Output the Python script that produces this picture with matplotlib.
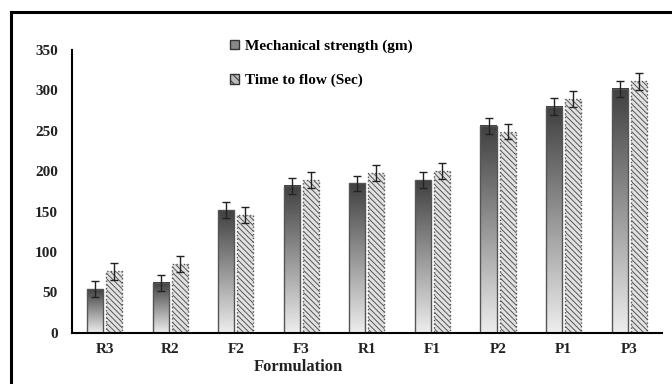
import matplotlib.pyplot as plt
import matplotlib.patches as mpatches
import numpy as np

plt.rcParams['font.family'] = ['Liberation Serif', 'DejaVu Serif']
plt.rcParams['font.weight'] = 'bold'
plt.rcParams['hatch.linewidth'] = 0.7
plt.rcParams['hatch.color'] = '#444444'

# Данные
formulations = ['R3', 'R2', 'F2', 'F3', 'R1', 'F1', 'P2', 'P1', 'P3']
mech_strength = [54, 62, 152, 182, 185, 189, 256, 280, 302]
mech_err = [10, 10, 10, 10, 9, 10, 10, 10, 10]
time_to_flow = [76, 85, 146, 189, 198, 200, 249, 289, 311]
flow_err = [10, 10, 10, 10, 10, 10, 9, 10, 10]

fig = plt.figure(figsize=(6.72, 3.84), dpi=100)
ax = fig.add_axes([0.107, 0.133, 0.878, 0.737])

x = np.arange(len(formulations))
w = 0.245
off = 0.145

# градиентная заливка: тёмный верх, светлый низ
grad = np.linspace(0.25, 0.93, 256).reshape(-1, 1)
for xi, h in zip(x - off, mech_strength):
    ax.imshow(grad, cmap='gray', vmin=0, vmax=1, aspect='auto',
              extent=[xi - w / 2, xi + w / 2, 0, h], zorder=1,
              interpolation='bicubic')
ax.bar(x - off, mech_strength, w, facecolor='none', edgecolor='#555555',
       linewidth=1.0, zorder=2)
ax.errorbar(x - off, mech_strength, yerr=mech_err, fmt='none', ecolor='#222222',
            elinewidth=1.0, capsize=3, capthick=1.0, zorder=3)

ax.bar(x + off, time_to_flow, w, facecolor='#e2e2e2', edgecolor='#555555',
       hatch='\\\\\\\\\\\\', linewidth=1.0, linestyle=':', zorder=2)
ax.errorbar(x + off, time_to_flow, yerr=flow_err, fmt='none', ecolor='#222222',
            elinewidth=1.0, capsize=3, capthick=1.0, zorder=3)

ax.set_xlim(-0.5, len(formulations) - 0.5)
ax.set_ylim(0, 350)
ax.set_yticks(range(0, 351, 50))
ax.set_xticks(x)
ax.set_xticklabels(formulations)
ax.tick_params(length=0, labelsize=11, colors='#222222', pad=7)
ax.tick_params(axis='y', pad=10)
for s in ['top', 'right']:
    ax.spines[s].set_visible(False)
ax.spines['left'].set_linewidth(1.5)
ax.spines['bottom'].set_linewidth(1.5)

fig.text(298 / 672, 1 - 367 / 384, 'Formulation', ha='center', va='center',
         fontsize=12, fontweight='bold', color='#222222')

handles = [mpatches.Patch(facecolor='#888888', edgecolor='#333333', linewidth=1.0,
                          label='Mechanical strength (gm)'),
           mpatches.Patch(facecolor='#bbbbbb', edgecolor='#333333', linewidth=1.0,
                          hatch='\\\\\\\\', label='Time to flow (Sec)')]
ax.legend(handles=handles, loc='upper left', bbox_to_anchor=(0.245, 1.085),
          frameon=False, handlelength=0.6, handleheight=0.6, handletextpad=0.35,
          labelspacing=1.35, prop={'weight': 'bold', 'size': 11})

# рамка рисунка
fig.add_artist(plt.Line2D([11 / 672, 1], [1 - 12 / 384] * 2, color='black', lw=2.2))
fig.add_artist(plt.Line2D([11 / 672] * 2, [0, 1 - 12 / 384], color='black', lw=2.2))

fig.savefig('out.png', dpi=100)
